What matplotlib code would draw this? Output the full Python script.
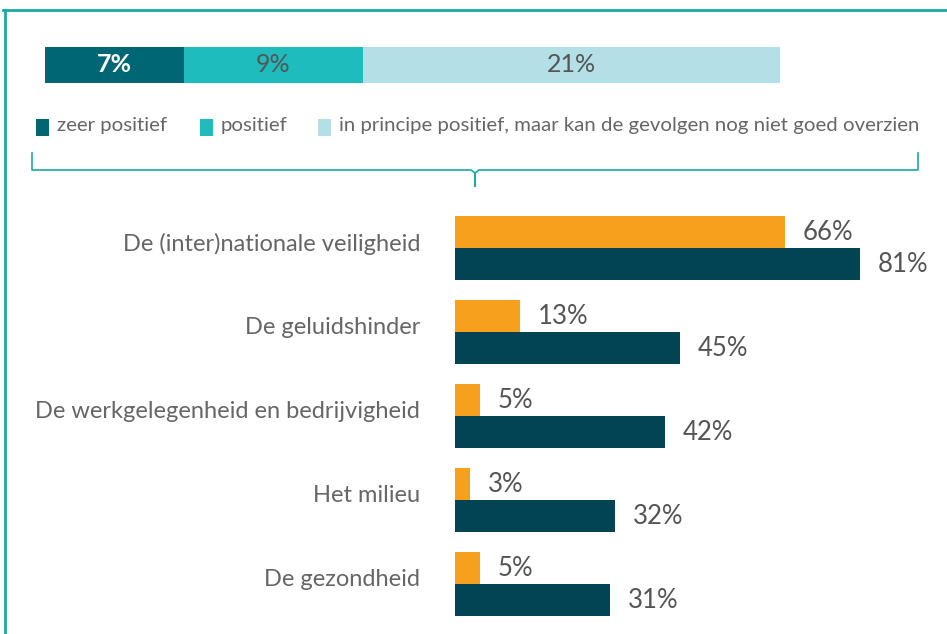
import matplotlib.pyplot as plt
from matplotlib.patches import Rectangle
import numpy as np

plt.rcParams['font.family'] = ['Lato', 'DejaVu Sans']

# --- Data ---
top_labels = ['zeer positief', 'positief',
              'in principe positief, maar kan de gevolgen nog niet goed overzien']
top_values = [7, 9, 21]
top_colors = ['#016674', '#1fbcbd', '#b3e0e6']
top_text_colors = ['white', '#555555', '#555555']

categories = ['De (inter)nationale veiligheid', 'De geluidshinder',
              'De werkgelegenheid en bedrijvigheid', 'Het milieu', 'De gezondheid']
series_a = [66, 13, 5, 3, 5]     # orange
series_b = [81, 45, 42, 32, 31]  # dark

W, H = 947, 634
fig = plt.figure(figsize=(W / 100, H / 100), dpi=100)
fig.patch.set_facecolor('white')

def px_axes(x0, y0, x1, y1, **kw):
    return fig.add_axes([x0 / W, 1 - y1 / H, (x1 - x0) / W, (y1 - y0) / H], **kw)

# background axes in pixel coordinates for frame, legend and brace
bg = px_axes(0, 0, W, H)
bg.set_xlim(0, W)
bg.set_ylim(H, 0)
bg.axis('off')
frame_c = '#1ba9a6'
bg.plot([3, W], [10, 10], color=frame_c, lw=2)
bg.plot([5, 5], [10, H], color=frame_c, lw=2)

# brace
bx0, bx1, bmid = 32, 918, 475
by, btop, btip = 170, 153, 186
bg.plot([bx0, bx0, bmid - 4, bmid, bmid, bmid, bmid + 4, bx1, bx1],
        [btop, by, by, by + 3, btip, by + 3, by, by, btop],
        color=frame_c, lw=1.2)

# legend
leg_x = [36, 200, 318]
for x, lab, c in zip(leg_x, top_labels, top_colors):
    bg.add_patch(Rectangle((x, 119), 13, 17, color=c, lw=0))
    bg.text(x + 21, 125, lab, fontsize=14.7, color='#666666', va='center', ha='left')

# top stacked bar
ax_top = px_axes(45, 47, 780, 83)
ax_top.set_xlim(0, sum(top_values))
ax_top.set_ylim(-0.5, 0.5)
ax_top.axis('off')
left = 0
for v, c, tc in zip(top_values, top_colors, top_text_colors):
    ax_top.barh(0, v, left=left, height=1.0, color=c, lw=0)
    ax_top.text(left + v / 2, 0, f'{v}%', ha='center', va='center', fontsize=18,
                color=tc, fontweight='bold' if tc == 'white' else 'normal')
    left += v

# grouped bar chart
ax = px_axes(455, 200, W, H)
pitch = 84
ax.set_xlim(0, (W - 455) / 5)
ax.set_ylim((H - 248) / pitch, (200 - 248) / pitch)
ax.axis('off')
y = np.arange(len(categories))
h = 32 / pitch
ax.barh(y - h / 2, series_a, height=h, color='#f7a01d', lw=0)
ax.barh(y + h / 2, series_b, height=h, color='#024454', lw=0)
for i in range(len(categories)):
    ax.text(series_a[i] + 3.6, y[i] - h / 2, f'{series_a[i]}%', va='center', ha='left',
            fontsize=18.5, color='#555555')
    ax.text(series_b[i] + 3.6, y[i] + h / 2, f'{series_b[i]}%', va='center', ha='left',
            fontsize=18.5, color='#555555')
    ax.text(-7, y[i] - 0.05, categories[i], va='center', ha='right',
            fontsize=17, color='#666666', clip_on=False)

fig.savefig('out.png', dpi=100, facecolor='white')
